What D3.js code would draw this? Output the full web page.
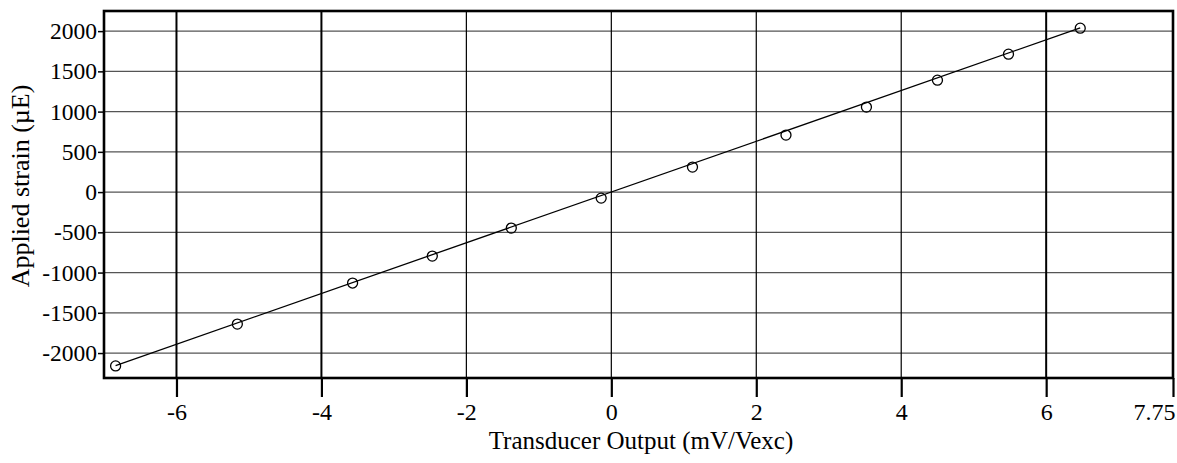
<!DOCTYPE html>
<html>
<head>
<meta charset="utf-8">
<script src="https://cdn.jsdelivr.net/npm/d3@7"></script>
<style>
  body { margin: 0; background: #fff; }
  svg { display: block; }
</style>
</head>
<body>
<svg id="main-svg" width="1177" height="463"></svg>
<script>
// transducer output (mV/Vexc) vs applied strain
const outputs = [-6.84, -5.16, -3.57, -2.47, -1.38, -0.14, 1.12, 2.41, 3.52, 4.50, 5.48, 6.47];
const strains = [-2160, -1640, -1130, -795, -447, -75, 311, 708, 1056, 1391, 1714, 2037];

// fitted calibration line (end points)
const fitX = [-6.84, 6.47];
const fitY = [-2155, 2040];

const xTicks = [-6, -4, -2, 0, 2, 4, 6, 7.75];
const xTickLabels = ["-6", "-4", "-2", "0", "2", "4", "6", "7.75"];
const yTicks = [-2000, -1500, -1000, -500, 0, 500, 1000, 1500, 2000];
const boldGridX = [-6, -4, 6];

const plot = { left: 104, right: 1173, top: 11, bottom: 378 };
const serif = "'Liberation Serif', 'DejaVu Serif', 'Times New Roman', serif";

const svg = d3.select("#main-svg");

const x = d3.scaleLinear().domain([-7, 7.75]).range([plot.left, plot.right]);
const y = d3.scaleLinear().domain([-2310, 2250]).range([plot.bottom, plot.top]);

// grid
const grid = svg.append("g");
grid.selectAll("line.h")
    .data(yTicks)
    .join("line")
        .attr("class", "h")
        .attr("x1", plot.left).attr("x2", plot.right)
        .attr("y1", d => y(d)).attr("y2", d => y(d))
        .attr("stroke", "#555")
        .attr("stroke-width", 1.2);
grid.selectAll("line.v")
    .data(xTicks.filter(d => d !== 7.75))
    .join("line")
        .attr("class", "v")
        .attr("x1", d => x(d)).attr("x2", d => x(d))
        .attr("y1", plot.top).attr("y2", plot.bottom)
        .attr("stroke", "#000")
        .attr("stroke-width", d => boldGridX.includes(d) ? 2 : 1.2);

// axes
const xAxis = svg.append("g")
    .attr("transform", `translate(0,${plot.bottom})`)
    .call(d3.axisBottom(x).tickValues(xTicks).tickSize(19).tickPadding(6)
        .tickFormat((d, i) => xTickLabels[i]));
xAxis.attr("font-family", null).attr("font-size", null);
xAxis.select(".domain").remove();
xAxis.selectAll(".tick line").attr("stroke", "#000").attr("stroke-width", 2.2);
xAxis.selectAll(".tick text").style("font-family", serif).style("font-size", "24px");
xAxis.selectAll(".tick").filter(d => d === 7.75).select("text").attr("text-anchor", "end").attr("dx", 2);

const yAxis = svg.append("g")
    .attr("transform", `translate(${plot.left},0)`)
    .call(d3.axisLeft(y).tickValues(yTicks).tickSize(6).tickPadding(1)
        .tickFormat(d => String(d)));
yAxis.attr("font-family", null).attr("font-size", null);
yAxis.select(".domain").remove();
yAxis.selectAll(".tick line").attr("stroke", "#000").attr("stroke-width", 1.5);
yAxis.selectAll(".tick text").style("font-family", serif).style("font-size", "23.5px");

// frame
svg.append("rect")
    .attr("x", plot.left).attr("y", plot.top)
    .attr("width", plot.right - plot.left).attr("height", plot.bottom - plot.top)
    .attr("fill", "none")
    .attr("stroke", "#000")
    .attr("stroke-width", 2.6);

// fit line
svg.append("line")
    .attr("x1", x(fitX[0])).attr("y1", y(fitY[0]))
    .attr("x2", x(fitX[1])).attr("y2", y(fitY[1]))
    .attr("stroke", "#000")
    .attr("stroke-width", 1.3);

// measured points
svg.append("g")
    .selectAll("circle")
    .data(outputs.map((v, i) => [v, strains[i]]))
    .join("circle")
        .attr("cx", d => x(d[0]))
        .attr("cy", d => y(d[1]))
        .attr("r", 5)
        .attr("fill", "none")
        .attr("stroke", "#000")
        .attr("stroke-width", 1.3);

// axis titles
svg.append("text")
    .attr("x", 641).attr("y", 449)
    .attr("text-anchor", "middle")
    .style("font-family", serif)
    .style("font-size", "25px")
    .text("Transducer Output (mV/Vexc)");

svg.append("text")
    .attr("transform", "translate(29,186) rotate(-90)")
    .attr("text-anchor", "middle")
    .style("font-family", serif)
    .style("font-size", "26px")
    .text("Applied strain (\u00b5E)");
</script>
</body>
</html>
